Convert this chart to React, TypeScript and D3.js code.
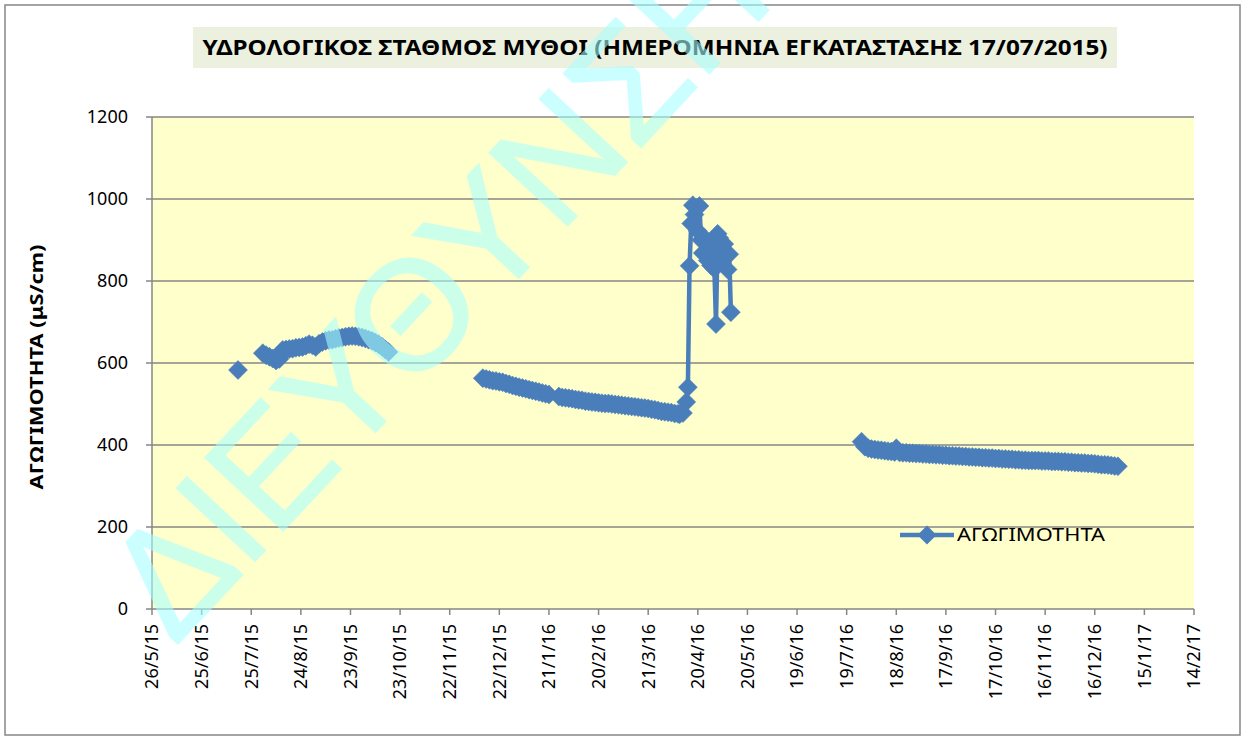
import React from "react";
import * as d3 from "d3";

const title = "ΥΔΡΟΛΟΓΙΚΟΣ ΣΤΑΘΜΟΣ ΜΥΘΟΙ (ΗΜΕΡΟΜΗΝΙΑ ΕΓΚΑΤΑΣΤΑΣΗΣ 17/07/2015)";
const yAxisTitle = "ΑΓΩΓΙΜΟΤΗΤΑ (μS/cm)";
const seriesName = "ΑΓΩΓΙΜΟΤΗΤΑ";
const watermark = "ΔΙΕΥΘΥΝΣΗ ΥΔΑΤΩΝ";

const xTickLabels = [
  "26/5/15", "25/6/15", "25/7/15", "24/8/15", "23/9/15", "23/10/15", "22/11/15",
  "22/12/15", "21/1/16", "20/2/16", "21/3/16", "20/4/16", "20/5/16", "19/6/16",
  "19/7/16", "18/8/16", "17/9/16", "17/10/16", "16/11/16", "16/12/16", "15/1/17", "14/2/17",
];
const yTicks = [0, 200, 400, 600, 800, 1000, 1200];

// measurement dates (a null value marks a gap in the record)
const dates = [
  "17/7/15", "24/7/15",
  "1/8/15", "3/8/15", "5/8/15", "7/8/15", "9/8/15", "11/8/15", "13/8/15", "15/8/15",
  "17/8/15", "19/8/15", "21/8/15", "23/8/15", "25/8/15", "27/8/15", "29/8/15", "31/8/15",
  "2/9/15", "4/9/15", "6/9/15", "8/9/15", "10/9/15", "12/9/15", "14/9/15", "16/9/15",
  "18/9/15", "20/9/15", "22/9/15", "24/9/15", "26/9/15", "28/9/15", "30/9/15", "2/10/15",
  "4/10/15", "6/10/15", "8/10/15", "10/10/15", "12/10/15", "14/10/15", "16/10/15",
  "15/11/15",
  "12/12/15", "14/12/15", "16/12/15", "18/12/15", "20/12/15", "22/12/15", "24/12/15", "26/12/15",
  "28/12/15", "30/12/15", "1/1/16", "3/1/16", "5/1/16", "7/1/16", "9/1/16", "11/1/16",
  "13/1/16", "15/1/16", "17/1/16", "19/1/16", "21/1/16",
  "27/1/16", "29/1/16", "31/1/16", "2/2/16", "4/2/16", "6/2/16", "8/2/16", "10/2/16",
  "12/2/16", "14/2/16", "16/2/16", "18/2/16", "20/2/16", "22/2/16", "24/2/16", "26/2/16",
  "28/2/16", "1/3/16", "3/3/16", "5/3/16", "7/3/16", "9/3/16", "11/3/16", "13/3/16",
  "15/3/16", "17/3/16", "19/3/16", "21/3/16", "23/3/16", "25/3/16", "27/3/16", "29/3/16",
  "31/3/16", "2/4/16", "4/4/16", "6/4/16", "8/4/16", "9/4/16", "11/4/16", "13/4/16",
  "14/4/16", "15/4/16", "16/4/16", "17/4/16", "18/4/16", "19/4/16", "20/4/16", "21/4/16",
  "22/4/16", "23/4/16", "24/4/16", "25/4/16", "26/4/16", "27/4/16", "28/4/16", "29/4/16",
  "30/4/16", "1/5/16", "2/5/16", "3/5/16", "4/5/16", "5/5/16", "6/5/16", "7/5/16",
  "8/5/16", "9/5/16", "10/5/16",
  "15/6/16",
  "28/7/16", "30/7/16", "1/8/16", "3/8/16", "5/8/16", "7/8/16", "9/8/16", "11/8/16",
  "13/8/16", "15/8/16", "17/8/16", "18/8/16", "20/8/16", "22/8/16", "24/8/16", "26/8/16",
  "28/8/16", "30/8/16", "1/9/16", "3/9/16", "5/9/16", "7/9/16", "9/9/16", "11/9/16",
  "13/9/16", "15/9/16", "17/9/16", "19/9/16", "21/9/16", "23/9/16", "25/9/16", "27/9/16",
  "29/9/16", "1/10/16", "3/10/16", "5/10/16", "7/10/16", "9/10/16", "11/10/16", "13/10/16",
  "15/10/16", "17/10/16", "19/10/16", "21/10/16", "23/10/16", "25/10/16", "27/10/16", "29/10/16",
  "31/10/16", "2/11/16", "4/11/16", "6/11/16", "8/11/16", "10/11/16", "12/11/16", "14/11/16",
  "16/11/16", "18/11/16", "20/11/16", "22/11/16", "24/11/16", "26/11/16", "28/11/16", "30/11/16",
  "2/12/16", "4/12/16", "6/12/16", "8/12/16", "10/12/16", "12/12/16", "14/12/16", "16/12/16",
  "18/12/16", "20/12/16", "22/12/16", "24/12/16", "26/12/16", "28/12/16", "30/12/16",
];

const values: (number | null)[] = [
  583, null,
  624, 619, 615, 611, 606, 610, 632, 633,
  634, 635, 637, 638, 639, 642, 646, 643,
  639, 647, 651, 654, 656, 657, 659, 661,
  662, 664, 665, 666, 665, 664, 662, 660,
  657, 654, 650, 646, 640, 633, 627,
  null,
  563, 561, 559, 557, 556, 554, 553, 550,
  548, 545, 543, 541, 539, 537, 535, 533,
  531, 529, 527, 525, 523,
  518, 516, 515, 514, 513, 511, 510, 509,
  507, 506, 505, 504, 503, 502, 501, 501,
  500, 499, 498, 497, 496, 495, 494, 493,
  492, 491, 490, 489, 487, 486, 484, 482,
  481, 480, 479, 477, 476, 475, 478, 505,
  541, 837, 940, 985, 962, 978, 922, 983,
  900, 868, 905, 875, 850, 888, 838, 870,
  830, 695, 915, 905, 880, 855, 890, 870,
  828, 865, 724,
  null,
  408, 396, 392, 390, 389, 388, 387, 386,
  385, 384, 383, 392, 382, 381, 381, 380,
  380, 379, 379, 378, 378, 377, 377, 376,
  376, 375, 375, 374, 374, 373, 373, 372,
  372, 371, 371, 370, 370, 369, 369, 368,
  368, 367, 367, 366, 366, 365, 365, 364,
  364, 363, 363, 362, 362, 362, 362, 361,
  361, 361, 360, 360, 360, 359, 359, 358,
  358, 357, 357, 356, 356, 355, 355, 354,
  353, 352, 352, 351, 350, 349, 348,
];

const parse = d3.timeParse("%d/%m/%y");

export default function App() {
  const W = 1245, H = 740;
  const left = 152, right = 1194, top = 117, bottom = 609;

  const tickDates = xTickLabels.map((s) => parse(s) as Date);
  const x = d3.scaleTime().domain([tickDates[0], tickDates[tickDates.length - 1]]).range([left, right]);
  const y = d3.scaleLinear().domain([0, 1200]).range([bottom, top]);

  const pts = dates.map((d, i) => ({ d: parse(d) as Date, v: values[i] }));
  const line = d3
    .line<{ d: Date; v: number | null }>()
    .defined((p) => p.v != null)
    .x((p) => x(p.d))
    .y((p) => y(p.v as number));

  const blue = "#4A7EBB";
  const grid = "#868686";
  const font = "'Noto Sans', 'DejaVu Sans', sans-serif";
  const r = 9.5;
  const diamond = `M0,${-r}L${r},0L0,${r}L${-r},0Z`;

  return (
    <svg width={W} height={H} style={{ position: "absolute", left: 0, top: 0, background: "#fff" }}>
      <rect x={0} y={0} width={W} height={H} fill="#fff" />
      <rect x={5} y={5} width={1235} height={730} fill="#fff" stroke={grid} strokeWidth={1.5} />
      {/* title */}
      <rect x={193} y={27} width={924} height={41} fill="#EBF1DE" />
      <text x={655} y={47} dy="0.35em" textAnchor="middle" fontFamily={font} fontWeight="bold" fontSize={22}
        textLength={905} lengthAdjust="spacingAndGlyphs" fill="#000">{title}</text>

      {/* plot area */}
      <rect x={left} y={top} width={right - left} height={bottom - top} fill="#FFFFCC" />
      {yTicks.map((t) => (
        <g key={t}>
          <line x1={left - 6} x2={right} y1={y(t)} y2={y(t)} stroke={grid} strokeWidth={1.5} />
          <text x={128} y={y(t)} dy="0.35em" textAnchor="end" fontFamily={font} fontSize={18} fill="#000">{t}</text>
        </g>
      ))}
      <line x1={left} x2={left} y1={top} y2={bottom} stroke={grid} strokeWidth={1.5} />
      {tickDates.map((d, i) => (
        <g key={i}>
          <line x1={x(d)} x2={x(d)} y1={bottom} y2={bottom + 6} stroke={grid} strokeWidth={1.5} />
          <text transform={`translate(${x(d)},${bottom + 15}) rotate(-90)`} dy="0.35em" textAnchor="end"
            fontFamily={font} fontSize={18} fill="#000">{xTickLabels[i]}</text>
        </g>
      ))}
      <text transform={`translate(37,367) rotate(-90)`} dy="0.35em" textAnchor="middle" fontFamily={font}
        fontWeight="bold" fontSize={18} textLength={245} lengthAdjust="spacingAndGlyphs" fill="#000">{yAxisTitle}</text>

      {/* series */}
      <path d={line(pts) || ""} fill="none" stroke={blue} strokeWidth={4.5} strokeLinejoin="round" />
      {pts.filter((p) => p.v != null).map((p, i) => (
        <path key={i} d={diamond} transform={`translate(${x(p.d)},${y(p.v as number)})`} fill={blue} stroke={blue} strokeWidth={0.5} />
      ))}

      {/* legend */}
      <line x1={900} x2={954} y1={535} y2={535} stroke={blue} strokeWidth={4.5} />
      <path d={diamond} transform="translate(927,535)" fill={blue} />
      <text x={957} y={535} dy="0.35em" fontFamily={font} fontSize={18} textLength={148}
        lengthAdjust="spacingAndGlyphs" fill="#000">{seriesName}</text>

      {/* watermark */}
      <g opacity={0.58}>
        <text transform="rotate(-47)" x={-354} y={569} fontFamily="'Liberation Sans', Arial, sans-serif" fontSize={155}
          fill="rgb(167,255,255)" stroke="rgb(167,255,255)" strokeWidth={2}>{watermark}</text>
      </g>
    </svg>
  );
}
